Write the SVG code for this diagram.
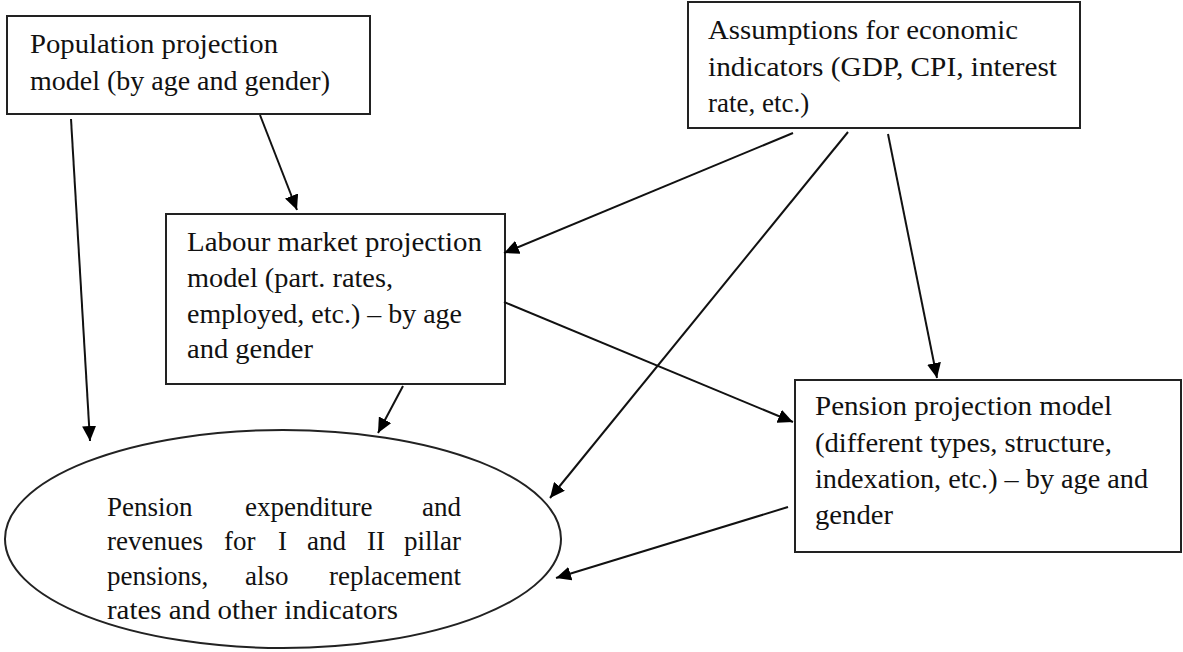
<svg xmlns="http://www.w3.org/2000/svg" width="1183" height="652" viewBox="0 0 1183 652">
<defs>
<marker id="ah" markerUnits="userSpaceOnUse" markerWidth="16" markerHeight="14" refX="15" refY="7" orient="auto">
<path d="M0,0 L15,7 L0,14 z" fill="#000"/>
</marker>
<style>
.box{fill:#fff;stroke:#222;stroke-width:2}
.t{font-family:"Liberation Serif","Times New Roman",serif;font-size:27px;fill:#111}
.c{stroke:#111;stroke-width:2;fill:none;marker-end:url(#ah)}
</style>
</defs>
<rect width="1183" height="652" fill="#fff"/>
<g id="population">
<rect class="box" x="7" y="16" width="363" height="98"/>
<text class="t" x="30" y="53" textLength="248" lengthAdjust="spacingAndGlyphs">Population projection</text>
<text class="t" x="30" y="90" textLength="300" lengthAdjust="spacingAndGlyphs">model (by age and gender)</text>
</g>
<g id="assumptions">
<rect class="box" x="688" y="2" width="392" height="126"/>
<text class="t" x="708" y="39" textLength="310" lengthAdjust="spacingAndGlyphs">Assumptions for economic</text>
<text class="t" x="708" y="76" textLength="349" lengthAdjust="spacingAndGlyphs">indicators (GDP, CPI, interest</text>
<text class="t" x="708" y="112">rate, etc.)</text>
</g>
<g id="labour">
<rect class="box" x="166" y="214" width="339" height="170"/>
<text class="t" x="187" y="251" textLength="295" lengthAdjust="spacingAndGlyphs">Labour market projection</text>
<text class="t" x="187" y="287" textLength="206" lengthAdjust="spacingAndGlyphs">model (part. rates,</text>
<text class="t" x="187" y="323" textLength="275" lengthAdjust="spacingAndGlyphs">employed, etc.) – by age</text>
<text class="t" x="187" y="358" textLength="126" lengthAdjust="spacingAndGlyphs">and gender</text>
</g>
<g id="pension">
<rect class="box" x="795" y="380" width="386" height="172"/>
<text class="t" x="815" y="415" textLength="297" lengthAdjust="spacingAndGlyphs">Pension projection model</text>
<text class="t" x="815" y="452" textLength="297" lengthAdjust="spacingAndGlyphs">(different types, structure,</text>
<text class="t" x="815" y="488" textLength="333" lengthAdjust="spacingAndGlyphs">indexation, etc.) – by age and</text>
<text class="t" x="815" y="524" textLength="78" lengthAdjust="spacingAndGlyphs">gender</text>
</g>
<g id="output">
<ellipse class="box" cx="283" cy="539" rx="278" ry="109"/>
<text class="t" x="107" y="516">Pension</text>
<text class="t" x="245" y="516">expenditure</text>
<text class="t" x="461" y="516" text-anchor="end">and</text>
<text class="t" x="107" y="550">revenues</text>
<text class="t" x="224" y="550">for</text>
<text class="t" x="278" y="550">I</text>
<text class="t" x="307" y="550">and</text>
<text class="t" x="367" y="550">II</text>
<text class="t" x="461" y="550" text-anchor="end">pillar</text>
<text class="t" x="107" y="585">pensions,</text>
<text class="t" x="245" y="585">also</text>
<text class="t" x="461" y="585" text-anchor="end">replacement</text>
<text class="t" x="107" y="619" textLength="291" lengthAdjust="spacingAndGlyphs">rates and other indicators</text>
</g>
<g id="connectors">
<line class="c" x1="71" y1="119" x2="90" y2="441"/>
<line class="c" x1="260" y1="115" x2="297" y2="210"/>
<line class="c" x1="793" y1="133" x2="504" y2="253"/>
<line class="c" x1="848" y1="132" x2="550" y2="498"/>
<line class="c" x1="888" y1="134" x2="937" y2="378"/>
<line class="c" x1="504" y1="302" x2="793" y2="422"/>
<line class="c" x1="403" y1="386" x2="378" y2="433"/>
<line class="c" x1="788" y1="507" x2="556" y2="578"/>
</g>
</svg>
